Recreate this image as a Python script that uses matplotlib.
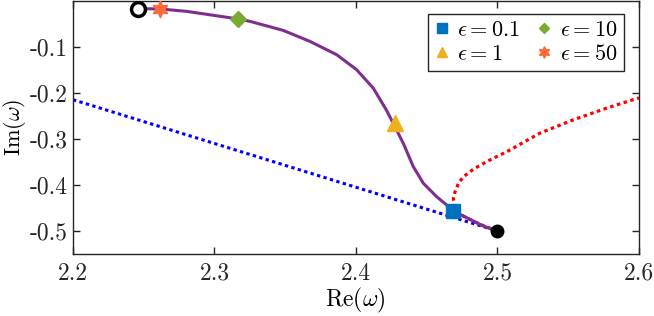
import matplotlib
matplotlib.use("Agg")
import matplotlib.pyplot as plt
import numpy as np

plt.rcParams['font.family'] = 'serif'
plt.rcParams['font.serif'] = ['cmr10']
plt.rcParams['mathtext.fontset'] = 'cm'
plt.rcParams['axes.unicode_minus'] = False
plt.rcParams['axes.formatter.use_mathtext'] = True

# purple branch (full model)
path_re = [2.2459, 2.2615, 2.2804, 2.3168, 2.3251, 2.3486, 2.3675, 2.3864,
           2.4005, 2.4122, 2.4217, 2.4334, 2.4405, 2.4476, 2.4570, 2.4641,
           2.4688, 2.4806, 2.4900, 2.4994]
path_im = [-0.0174, -0.0180, -0.0233, -0.0398, -0.0450, -0.0646, -0.0885, -0.1174,
           -0.1500, -0.1898, -0.2385, -0.3093, -0.3602, -0.3963, -0.4254, -0.4435,
           -0.4565, -0.4746, -0.4891, -0.5000]

# blue dotted branch
blue_re = [2.2, 2.35, 2.5]
blue_im = [-0.215, -0.3575, -0.5]

# red dotted branch
red_re = [2.5, 2.488, 2.476, 2.4705, 2.4688, 2.4700, 2.4725, 2.4760, 2.4829,
          2.4924, 2.5077, 2.53, 2.5536, 2.5771, 2.60]
red_im = [-0.5, -0.486, -0.468, -0.452, -0.43, -0.415, -0.396, -0.382, -0.366,
          -0.3493, -0.326, -0.2876, -0.2587, -0.2333, -0.211]

# epsilon markers
eps_labels = ['0.1', '1', '10', '50']
eps_re = [2.4688, 2.4276, 2.3168, 2.2615]
eps_im = [-0.4565, -0.2659, -0.0398, -0.0180]
eps_markers = ['s', '^', 'D', (6, 1, 0)]
eps_colors = ['#0072BD', '#EDB120', '#77AC30', '#FF6A3A']
eps_sizes = [10, 11, 8, 12]

fig = plt.figure(figsize=(6.54, 3.16), dpi=100)
ax = fig.add_axes([0.1116, 0.196, 0.8654, 0.802])

ax.plot(blue_re, blue_im, color='blue', lw=2.2, linestyle=(0, (1.1, 1.1)), zorder=2)
ax.plot(red_re, red_im, color='red', lw=2.3, linestyle=(0, (1.1, 1.1)), zorder=2)
ax.plot(path_re, path_im, color='#7E2F8E', lw=2.2, zorder=3)

ax.plot(path_re[0], path_im[0], 'o', ms=10, mfc='white', mec='black', mew=2.5, zorder=5)
ax.plot(path_re[-1], path_im[-1], 'o', ms=9, mfc='black', mec='black', zorder=5)

for lab, x, y, m, c, s in zip(eps_labels, eps_re, eps_im, eps_markers, eps_colors, eps_sizes):
    ax.plot(x, y, linestyle='none', marker=m, ms=s, color=c, mec=c,
            label=r'$\epsilon = %s$' % lab, zorder=6)

ax.set_xlim(2.2, 2.6)
ax.set_ylim(-0.55, 0.0)
ax.set_xticks([2.2, 2.3, 2.4, 2.5, 2.6])
ax.set_xticklabels(['2.2', '2.3', '2.4', '2.5', '2.6'])
ax.set_yticks([-0.5, -0.4, -0.3, -0.2, -0.1])
ax.set_yticklabels(['-0.5', '-0.4', '-0.3', '-0.2', '-0.1'])
ax.tick_params(direction='in', length=5, width=1, top=True, right=True,
               labelsize=17, colors='#262626', pad=6)
ax.tick_params(axis='y', pad=4)
for sp in ax.spines.values():
    sp.set_linewidth(1.0)
    sp.set_color('#262626')

ax.set_xlabel(r'$\mathrm{Re}(\omega)$', fontsize=17)
ax.set_ylabel(r'$\mathrm{Im}(\omega)$', fontsize=16)
ax.xaxis.set_label_coords(0.498, -0.125)
ax.yaxis.set_label_coords(-0.079, 0.5)

leg = ax.legend(ncol=2, loc='upper right', fontsize=16, markerscale=0.7,
                handlelength=0.6, handletextpad=0.4, columnspacing=0.8,
                labelspacing=0.2, borderpad=0.3, fancybox=False, borderaxespad=0,
                framealpha=1, edgecolor='#262626', bbox_to_anchor=(0.9735, 0.949))
leg.get_frame().set_linewidth(1.0)

fig.savefig('out.png', dpi=100)
